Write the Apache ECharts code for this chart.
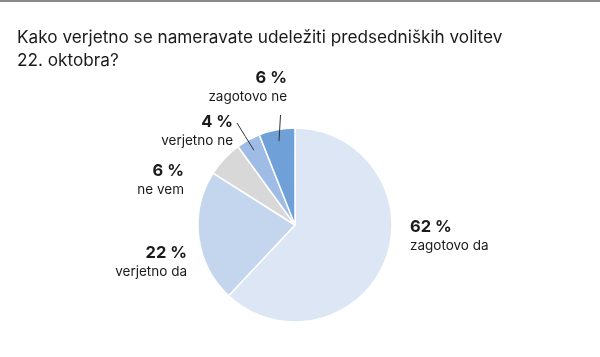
<!DOCTYPE html>
<html><head><meta charset="utf-8">
<script src="https://cdn.jsdelivr.net/npm/echarts@6/dist/echarts.min.js"></script>
<style>html,body{margin:0;padding:0;background:#fff}#c{width:600px;height:357px}</style>
</head><body><div id="c"></div>
<script>
const categories = ['zagotovo da', 'verjetno da', 'ne vem', 'verjetno ne', 'zagotovo ne'];
const values = [62, 22, 6, 4, 6];
const colors = ['#dce6f5', '#c4d5ee', '#d8d8d8', '#9ebce5', '#6fa0d8'];
const titleText = 'Kako verjetno se nameravate udeležiti predsedniških volitev\n22. oktobra?';

const FONT = 'Inter';
const CX = 295, CY = 225, R = 97;
// label anchor positions (layout only)
const labelPos = [
  {x: 410, y: 236.5, align: 'left'},
  {x: 187, y: 262, align: 'right'},
  {x: 184, y: 180, align: 'right'},
  {x: 233, y: 131, align: 'right'},
  {x: 287, y: 87, align: 'right'}
];
const lineTop = [null, null, null, [237, 123], [280.5, 115]];

const total = values.reduce((a, b) => a + b, 0);
function midAngle(i) {
  let s = 0; for (let k = 0; k < i; k++) s += values[k];
  return (s + values[i] / 2) / total * Math.PI * 2;
}

const baseData = categories.map((n, i) => ({name: n, value: values[i]}));

const chart = echarts.init(document.getElementById('c'));
chart.setOption({
  animation: false,
  title: {
    text: titleText, left: 12, top: 21,
    textStyle: {fontFamily: FONT, fontSize: 17.2, fontWeight: 'normal', color: '#1a1a1a', lineHeight: 23}
  },
  graphic: [{type: 'rect', shape: {x: 0, y: 0, width: 600, height: 2}, style: {fill: '#8a8a8a'}}],
  series: [{
    type: 'pie', z: 2,
    center: [CX, CY], radius: R,
    startAngle: 90, clockwise: true,
    itemStyle: {borderColor: '#fff', borderWidth: 1.5},
    label: {show: false}, labelLine: {show: false},
    data: baseData.map((d, i) => ({...d, itemStyle: {color: colors[i]}}))
  }, {
    type: 'pie', z: 5, silent: true,
    center: [CX, CY], radius: R,
    startAngle: 90, clockwise: true,
    itemStyle: {color: 'rgba(0,0,0,0)', borderWidth: 0},
    label: {
      show: true, position: 'outside',
      formatter: p => '{v|' + p.value + ' %}\n{n|' + p.name + '}',
      rich: {
        v: {fontFamily: FONT, fontSize: 16.5, fontWeight: 'bold', color: '#1a1a1a', lineHeight: 19},
        n: {fontFamily: FONT, fontSize: 13.5, color: '#1a1a1a', lineHeight: 18}
      }
    },
    labelLine: {show: false, lineStyle: {color: '#333', width: 1}},
    labelLayout: function (p) {
      const i = p.dataIndex;
      const lp = labelPos[i];
      const res = {x: lp.x, y: lp.y, align: lp.align, verticalAlign: 'middle'};
      if (lineTop[i]) {
        const a = midAngle(i);
        const r = R * 0.88;
        const sx = CX + r * Math.sin(a), sy = CY - r * Math.cos(a);
        res.labelLinePoints = [[sx, sy], [(sx + lineTop[i][0]) / 2, (sy + lineTop[i][1]) / 2], lineTop[i]];
      }
      return res;
    },
    data: baseData.map((d, i) => ({...d, labelLine: {show: !!lineTop[i]}}))
  }]
});
</script></body></html>
